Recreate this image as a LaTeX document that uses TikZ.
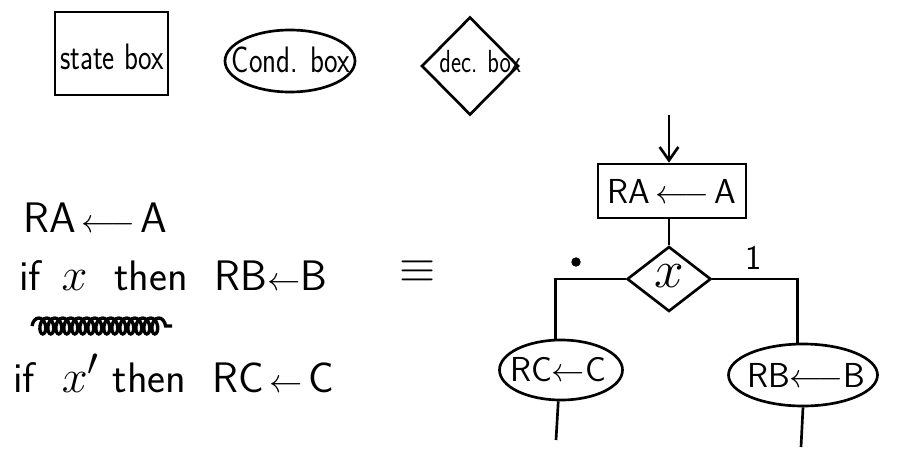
\documentclass[tikz,border=0pt]{standalone}
\usetikzlibrary{shapes.geometric,arrows.meta,decorations.pathmorphing}
\begin{document}
\begin{tikzpicture}[x=0.75pt,y=-0.75pt,line width=2pt,font=\sffamily,
  shp/.style={draw,inner sep=0pt},
  txt/.style={inner sep=0pt},
  big/.style={font=\sffamily\fontsize{32}{34}\selectfont},
  mid/.style={font=\sffamily\fontsize{26}{28}\selectfont},
  lgd/.style={font=\sffamily\fontsize{24}{26}\selectfont}]
\useasboundingbox (0,0) rectangle (906,450);
% legend shapes
\node[shp,rectangle,minimum width=113*0.75pt,minimum height=83*0.75pt] (sb) at (111.5,53.5) {};
\node[txt,lgd] (sbt) at (112,57) {\scalebox{0.9}[1.15]{state box}};
\node[shp,ellipse,minimum width=130*0.75pt,minimum height=62*0.75pt] (cb) at (290,61) {};
\node[txt,lgd] (cbt) at (291,60) {\scalebox{0.9}[1.15]{Cond. box}};
\node[shp,diamond,minimum width=97*0.75pt,minimum height=98*0.75pt] (db) at (470,66) {};
\node[txt,lgd] (dbt) at (480,62) {\scalebox{0.75}[1]{dec. box}};
% left text
\node[txt,big,anchor=base west] (l1) at (22,232) {RA$\,\longleftarrow\,$A};
\node[txt,big,anchor=base west] (l2) at (18,290) {if\, \scalebox{1.4}{$x$}\ \ then\ \ RB$\leftarrow$B};
\coordinate (s1) at (32,326);
\coordinate (s2) at (172,326);
\draw[line width=2.5pt,decorate,decoration={coil,aspect=0.6,segment length=6pt,amplitude=6pt}] (s1) -- (s2);
\node[txt,big,anchor=base west] (l3) at (12,392) {if\ \ \scalebox{1.4}{$x'$} then\ \ RC$\,\leftarrow\,$C};
\node[txt,font=\fontsize{24}{26}\selectfont] (eq) at (418,272) {\scalebox{1.4}{$\equiv$}};
% flowchart
\coordinate (in) at (669,115);
\node[shp,rectangle,minimum width=148*0.75pt,minimum height=54*0.75pt] (ra) at (672,191) {};
\node[txt,mid] (rat) at (672,191) {RA$\,\longleftarrow\,$A};
\node[shp,diamond,minimum width=84*0.75pt,minimum height=65*0.75pt] (xd) at (669,279) {};
\node[txt,font=\fontsize{24}{26}\selectfont] (xt) at (669,276) {\scalebox{1.6}{$x$}};
\node[shp,ellipse,minimum width=123*0.75pt,minimum height=60*0.75pt] (rc) at (561,370) {};
\node[txt,mid] (rct) at (558,370) {RC$\leftarrow$C};
\node[shp,ellipse,minimum width=149*0.75pt,minimum height=62*0.75pt] (rb) at (803,375) {};
\node[txt,mid] (rbt) at (806,375) {RB$\longleftarrow$B};
\node[circle,fill,inner sep=2.5pt] (zero) at (576,262) {};
\node[txt,mid] (one) at (754,258) {1};
\coordinate (rcend) at (556,440);
\coordinate (rbend) at (801,447);
\draw[-{Straight Barb[length=10pt,width=14pt]}] (in) -- (ra.north -| in);
\draw (xd.north) -- (xd.north |- ra.south);
\draw (xd.west) -| (rc.100);
\draw (xd.east) -| (rb.100);
\draw (rc.265) -- (rcend);
\draw (rb.south) -- (rbend);
\end{tikzpicture}
\end{document}
